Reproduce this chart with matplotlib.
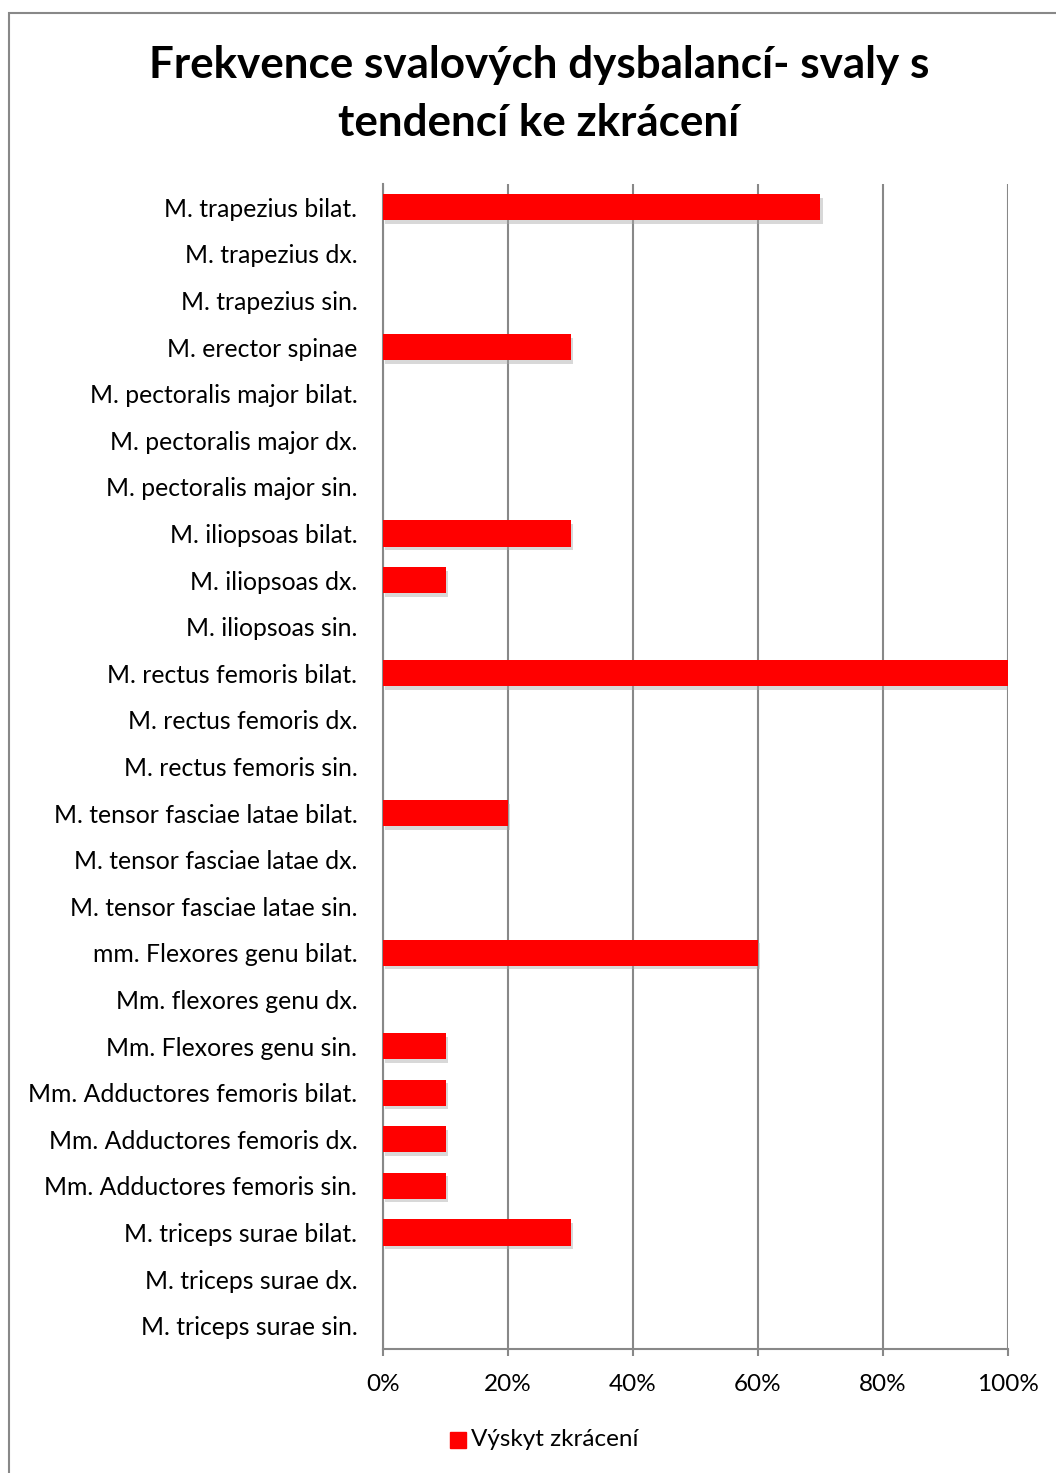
import numpy as np
import matplotlib.pyplot as plt
import matplotlib.patheffects as pe
from matplotlib.patches import Rectangle

plt.rcParams['font.family'] = ['Lato', 'DejaVu Sans']

# data
svaly = ['M. trapezius bilat.', 'M. trapezius dx.', 'M. trapezius sin.',
         'M. erector spinae', 'M. pectoralis major bilat.', 'M. pectoralis major dx.',
         'M. pectoralis major sin.', 'M. iliopsoas bilat.', 'M. iliopsoas dx.',
         'M. iliopsoas sin.', 'M. rectus femoris bilat.', 'M. rectus femoris dx.',
         'M. rectus femoris sin.', 'M. tensor fasciae latae bilat.',
         'M. tensor fasciae latae dx.', 'M. tensor fasciae latae sin.',
         'mm. Flexores genu bilat.', 'Mm. flexores genu dx.', 'Mm. Flexores genu sin.',
         'Mm. Adductores femoris bilat.', 'Mm. Adductores femoris dx.',
         'Mm. Adductores femoris sin.', 'M. triceps surae bilat.',
         'M. triceps surae dx.', 'M. triceps surae sin.']
vyskyt = [0.7, 0, 0, 0.3, 0, 0, 0, 0.3, 0.1, 0, 1.0, 0, 0, 0.2, 0, 0,
          0.6, 0, 0.1, 0.1, 0.1, 0.1, 0.3, 0, 0]
procenta = [0, 0.2, 0.4, 0.6, 0.8, 1.0]
procenta_txt = ['0%', '20%', '40%', '60%', '80%', '100%']

fig = plt.figure(figsize=(10.56, 14.73), dpi=100)
ax = fig.add_axes([383/1056, 1-1349/1473, 625/1056, 1165/1473])

y = np.arange(len(svaly))
bars = ax.barh(y, vyskyt, height=0.56, color='#ff0000', zorder=3)
for b in bars:
    b.set_path_effects([pe.SimplePatchShadow(offset=(1.5, -2.5), shadow_rgbFace='#aaaaaa', alpha=0.45), pe.Normal()])

ax.set_ylim(len(svaly) - 0.5, -0.5)
ax.set_xlim(0, 1)
ax.set_yticks(y)
ax.set_yticklabels(svaly, fontsize=17.8)
ax.set_xticks(procenta)
ax.set_xticklabels(procenta_txt, fontsize=17.5)
ax.tick_params(axis='y', length=0, pad=18.5)
ax.tick_params(axis='x', length=5, width=1.5, color='#888888', pad=13)
ax.grid(axis='x', color='#888888', linewidth=1.5, zorder=0)
for s in ['top', 'right']:
    ax.spines[s].set_visible(False)
for s in ['left', 'bottom']:
    ax.spines[s].set_color('#888888')
    ax.spines[s].set_linewidth(1.5)

fig.text(539/1056, 1-65/1473, 'Frekvence svalových dysbalancí- svaly s', ha='center', va='center',
         fontsize=31.7, fontweight='bold')
fig.text(539/1056, 1-123/1473, 'tendencí ke zkrácení', ha='center', va='center',
         fontsize=31.7, fontweight='bold')

# legenda
fig.patches.append(Rectangle((450/1056, 1-1448/1473), 16/1056, 16/1473,
                             transform=fig.transFigure, color='#ff0000'))
fig.text(471/1056, 1-1440/1473, 'Výskyt zkrácení', ha='left', va='center', fontsize=17.5)

# ramecek
fig.patches.append(Rectangle((9/1056, -0.01), 1.0, 1-13/1473 + 0.01, transform=fig.transFigure,
                             fill=False, edgecolor='#888888', linewidth=1.5))

plt.savefig('out.png', dpi=100)
